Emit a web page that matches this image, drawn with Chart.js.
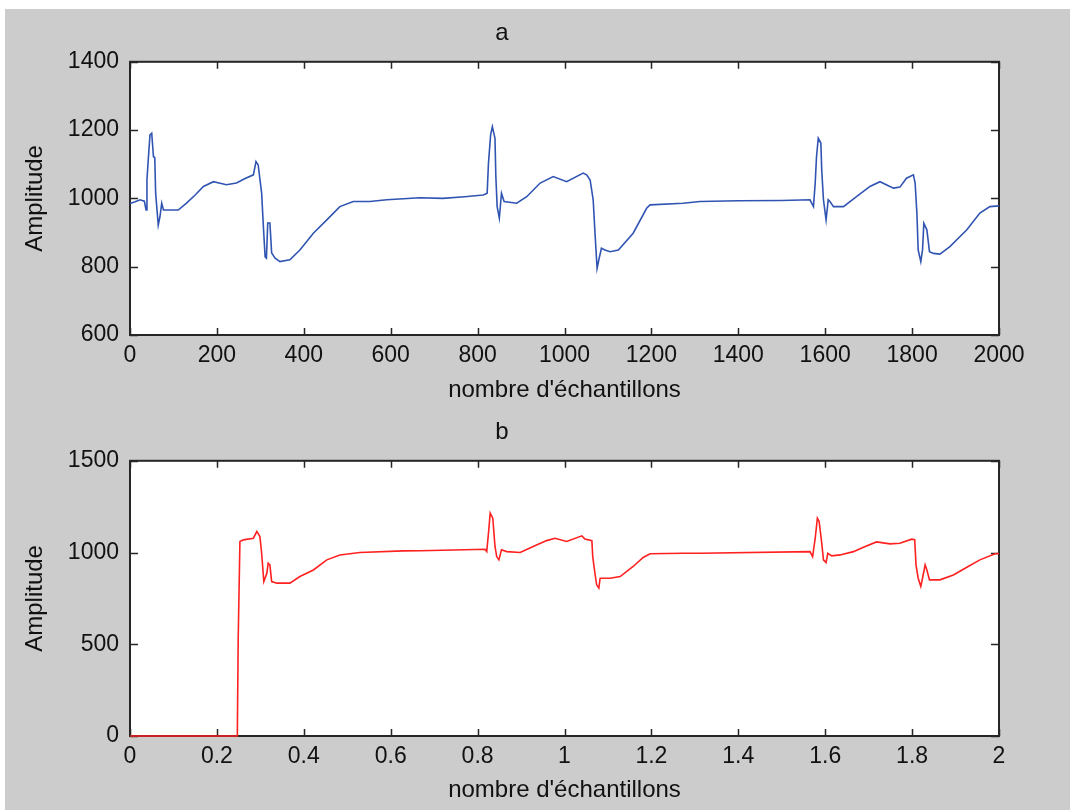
<!DOCTYPE html>
<html>
<head>
<meta charset="utf-8">
<script src="https://cdn.jsdelivr.net/npm/chart.js@4"></script>
<style>
  body { margin: 0; background: #fff; }
  #fig { position: absolute; left: 5px; top: 9px; width: 1065px; height: 801px; background: #cccccc; }
  canvas { position: absolute; left: 0; }
</style>
</head>
<body>
<div id="fig">
  <canvas id="chartA" width="1065" height="401" style="top:0"></canvas>
  <canvas id="chartB" width="1065" height="400" style="top:401px"></canvas>
</div>
<script>
// signal a : amplitude vs sample number
const samplesA = [0, 12, 23, 33, 37, 39, 42, 46, 50, 54, 57, 59, 65, 69, 73, 77, 111, 130, 150, 169,
  192, 205, 222, 245, 265, 284, 290, 295, 303, 307, 311, 314, 317, 322, 326, 334, 345, 368, 391, 422,
  453, 483, 514, 552, 591, 667, 720, 770, 813, 822, 825, 830, 834, 840, 842, 845, 850, 855, 861, 890,
  913, 944, 974, 1005, 1043, 1051, 1059, 1066, 1070, 1075, 1079, 1085, 1093, 1105, 1124, 1158, 1189, 1197, 1273, 1312,
  1400, 1500, 1565, 1573, 1577, 1580, 1584, 1590, 1592, 1596, 1602, 1607, 1611, 1619, 1642, 1672, 1703, 1726, 1757, 1772,
  1787, 1803, 1807, 1811, 1814, 1820, 1824, 1827, 1834, 1840, 1849, 1864, 1887, 1926, 1956, 1979, 2000];
const ampA = [985, 990, 996, 992, 966, 1054, 1113, 1186, 1191, 1122, 1120, 1016, 922, 947, 986, 966, 966, 986, 1010, 1035,
  1049, 1045, 1040, 1045, 1058, 1069, 1108, 1098, 1015, 917, 829, 825, 928, 928, 840, 825, 815, 820, 849, 898,
  937, 976, 991, 991, 996, 1002, 1000, 1005, 1010, 1015, 1103, 1186, 1210, 1176, 1064, 976, 942, 1015, 991, 986,
  1005, 1045, 1064, 1049, 1074, 1069, 1054, 996, 903, 795, 820, 854, 849, 844, 849, 898, 971, 981, 986, 991,
  993, 994, 996, 976, 1045, 1122, 1176, 1162, 1083, 996, 937, 996, 991, 976, 976, 1005, 1035, 1049, 1030, 1033,
  1059, 1069, 1045, 957, 849, 815, 849, 927, 908, 844, 839, 837, 859, 908, 957, 976, 978];

// signal b : delayed signal
const timeB = [0, 0.247, 0.249, 0.253, 0.261, 0.284, 0.292, 0.299, 0.303, 0.308, 0.315, 0.318, 0.322, 0.326, 0.338, 0.368, 0.391, 0.422, 0.453, 0.483,
  0.529, 0.629, 0.667, 0.771, 0.817, 0.821, 0.825, 0.829, 0.835, 0.840, 0.844, 0.849, 0.855, 0.867, 0.898, 0.928, 0.959, 0.978, 1.005, 1.040,
  1.047, 1.063, 1.065, 1.070, 1.074, 1.079, 1.082, 1.105, 1.128, 1.158, 1.181, 1.197, 1.273, 1.312, 1.565, 1.571, 1.577, 1.582, 1.586, 1.592,
  1.596, 1.602, 1.606, 1.615, 1.634, 1.665, 1.688, 1.718, 1.749, 1.772, 1.799, 1.806, 1.809, 1.814, 1.820, 1.824, 1.830, 1.834, 1.840, 1.864,
  1.895, 1.926, 1.956, 1.991, 2.0];
const ampB = [0, 0, 524, 1060, 1069, 1078, 1115, 1087, 996, 842, 887, 942, 933, 842, 833, 833, 869, 905, 960, 987,
  1000, 1009, 1010, 1015, 1018, 1005, 1105, 1215, 1187, 1033, 978, 960, 1015, 1005, 1000, 1033, 1065, 1078, 1060, 1091,
  1073, 1065, 978, 887, 824, 806, 860, 860, 869, 924, 973, 993, 996, 996, 1005, 978, 1078, 1187, 1169, 1051,
  960, 945, 996, 982, 987, 1005, 1029, 1058, 1047, 1051, 1073, 1070, 933, 860, 815, 860, 933, 905, 851, 851,
  878, 920, 960, 993, 995];

const xTicksA = [0, 200, 400, 600, 800, 1000, 1200, 1400, 1600, 1800, 2000];
const yTicksA = [600, 800, 1000, 1200, 1400];
const xTicksB = [0, 0.2, 0.4, 0.6, 0.8, 1, 1.2, 1.4, 1.6, 1.8, 2];
const xLabelsB = ['0', '0.2', '0.4', '0.6', '0.8', '1', '1.2', '1.4', '1.6', '1.8', '2'];
const yTicksB = [0, 500, 1000, 1500];

const FONT = '"Liberation Sans", Arial, sans-serif';
Chart.defaults.font.family = FONT;
Chart.defaults.color = '#111';

// white axes background, black box and inward ticks like matlab
const matlabBox = {
  id: 'matlabBox',
  beforeDatasetsDraw(chart) {
    const {ctx, chartArea: a, scales: {x, y}} = chart;
    ctx.save();
    ctx.fillStyle = '#fff';
    ctx.fillRect(a.left, a.top, a.width, a.height);
    ctx.strokeStyle = '#262626';
    ctx.lineWidth = 1.5;
    ctx.beginPath();
    x.ticks.forEach(t => {
      const px = Math.round(x.getPixelForValue(t.value)) + 0.5;
      ctx.moveTo(px, a.bottom); ctx.lineTo(px, a.bottom - 7);
      ctx.moveTo(px, a.top); ctx.lineTo(px, a.top + 7);
    });
    y.ticks.forEach(t => {
      const py = Math.round(y.getPixelForValue(t.value)) + 0.5;
      ctx.moveTo(a.left, py); ctx.lineTo(a.left + 8, py);
      ctx.moveTo(a.right, py); ctx.lineTo(a.right - 8, py);
    });
    ctx.stroke();
    ctx.lineWidth = 2;
    ctx.strokeRect(a.left, a.top, a.width, a.height);
    ctx.restore();
  }
};

function makeChart(id, xs, ys, color, opts) {
  const points = xs.map((v, i) => ({x: v, y: ys[i]}));
  return new Chart(document.getElementById(id), {
    type: 'line',
    data: {
      datasets: [{
        data: points,
        borderColor: color,
        borderWidth: 1.6,
        pointRadius: 0,
        tension: 0,
        clip: 4
      }]
    },
    options: {
      responsive: false,
      animation: false,
      events: [],
      layout: {padding: {left: 0, right: 71, top: 0, bottom: 0}},
      plugins: {
        legend: {display: false},
        tooltip: {enabled: false},
        title: {
          display: true,
          text: opts.title,
          color: '#111',
          font: {size: 24, weight: 'normal', lineHeight: 1.2},
          padding: opts.titlePad
        }
      },
      scales: {
        x: {
          type: 'linear',
          min: opts.xTicks[0],
          max: opts.xTicks[opts.xTicks.length - 1],
          afterBuildTicks: s => { s.ticks = opts.xTicks.map(v => ({value: v})); },
          afterFit: s => { s.height = opts.xHeight; },
          grid: {display: false, drawTicks: false},
          border: {display: false},
          ticks: {
            padding: 7,
            maxRotation: 0,
            autoSkip: false,
            font: {size: 23},
            color: '#111',
            callback: (v, i) => opts.xLabels ? opts.xLabels[i] : String(v)
          },
          title: {
            display: true,
            text: "nombre d'échantillons",
            color: '#111',
            font: {size: 24, lineHeight: 1.2},
            padding: {top: 0, bottom: 5}
          }
        },
        y: {
          min: opts.yTicks[0],
          max: opts.yTicks[opts.yTicks.length - 1],
          afterBuildTicks: s => { s.ticks = opts.yTicks.map(v => ({value: v})); },
          afterFit: s => { s.width = 125; },
          grid: {display: false, drawTicks: false},
          border: {display: false},
          ticks: {
            padding: 11,
            autoSkip: false,
            font: {size: 23},
            color: '#111',
            callback: v => String(v)
          },
          title: {
            display: true,
            text: 'Amplitude',
            color: '#111',
            font: {size: 24, lineHeight: 1.2},
            padding: {top: 16, bottom: 0}
          }
        }
      }
    },
    plugins: [matlabBox]
  });
}

makeChart('chartA', samplesA, ampA, 'rgb(48, 84, 178)', {
  title: 'a', titlePad: {top: 10, bottom: 14},
  xTicks: xTicksA, yTicks: yTicksA, xHeight: 75
});
makeChart('chartB', timeB, ampB, 'rgb(255, 32, 32)', {
  title: 'b', titlePad: {top: 8, bottom: 14},
  xTicks: xTicksB, xLabels: xLabelsB, yTicks: yTicksB, xHeight: 74
});
</script>
</body>
</html>
